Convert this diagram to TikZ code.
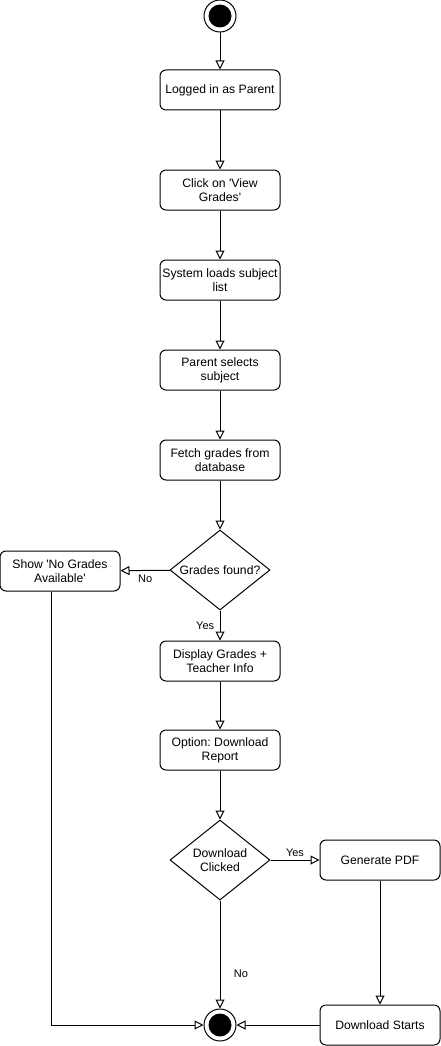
\documentclass[tikz,border=0pt]{standalone}
\usepackage{fontspec}
\setmainfont{Liberation Sans}
\usetikzlibrary{arrows.meta,shapes.geometric}
\newcommand{\sq}{\textquotesingle}
\begin{document}
\begin{tikzpicture}[x=1pt,y=-1pt,
  every node/.style={font=\fontsize{12.2}{14}\selectfont\frenchspacing},
  act/.style={draw,line width=1pt,rounded corners=6pt,minimum width=120pt,minimum height=40pt,align=center,inner sep=1pt},
  dec/.style={draw,line width=1pt,diamond,minimum width=100pt,minimum height=80pt,aspect=1.25,inner sep=0pt,align=center},
  flow/.style={draw,line width=1pt,-{Triangle[open,length=9pt,width=9pt,fill=white]}},
  lbl/.style={font=\fontsize{11}{12}\selectfont},
  term/.style={circle,draw,line width=1pt,fill=white,minimum size=32pt,inner sep=0pt,
     path picture={\fill[black] (path picture bounding box.center) circle (11.5pt);}}
]
\useasboundingbox (0,0) rectangle (441,1046);
\node[term] (start) at (220,16) {};
\node[act] (login) at (220,90) {Logged in as Parent};
\node[act] (click) at (220,190) {Click on \sq View\\Grades\sq};
\node[act] (load) at (220,280) {System loads subject\\list};
\node[act] (sel) at (220,370) {Parent selects\\subject};
\node[act] (fetch) at (220,460) {Fetch grades from\\database};
\node[dec] (found) at (220,570) {Grades found?};
\node[act] (none) at (60,571) {Show \sq No Grades\\Available\sq};
\node[act] (disp) at (220,661) {Display Grades +\\Teacher Info};
\node[act] (opt) at (220,750) {Option: Download\\Report};
\node[dec] (dl) at (220,860) {Download\\Clicked};
\node[act] (pdf) at (380,860) {Generate PDF};
\node[act] (starts) at (380,1025) {Download Starts};
\node[term] (end) at (220,1025) {};
\coordinate (lefttop) at ([xshift=-9pt]none.south);
\coordinate (corner) at (lefttop |- end);

\draw[flow] (start) -- (login);
\draw[flow] (login) -- (click);
\draw[flow] (click) -- (load);
\draw[flow] (load) -- (sel);
\draw[flow] (sel) -- (fetch);
\draw[flow] (fetch) -- (found);
\draw[flow] (found) -- node[lbl,below,pos=0.5,yshift=-1pt] {No} (none);
\draw[flow] (found) -- node[lbl,left,pos=0.5,xshift=-2pt] {Yes} (disp);
\draw[flow] (disp) -- (opt);
\draw[flow] (opt) -- (dl);
\draw[flow] (dl) -- node[lbl,above,pos=0.5] {Yes} (pdf);
\draw[flow] (dl) -- node[lbl,right,pos=0.68,xshift=10pt] {No} (end);
\draw[flow] (pdf) -- (starts);
\draw[flow] (starts) -- (end);
\draw[flow] (lefttop) -- (corner) -- (end);
\end{tikzpicture}
\end{document}
